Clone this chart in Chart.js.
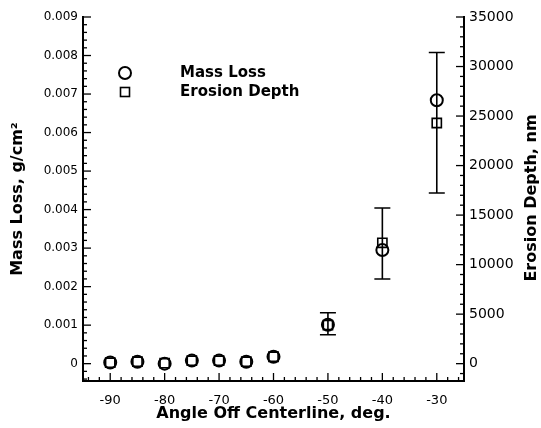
<!DOCTYPE html>
<html>
<head>
<meta charset="utf-8">
<script src="https://cdn.jsdelivr.net/npm/chart.js@4.4.1/dist/chart.umd.min.js"></script>
<style>
  html, body { margin: 0; padding: 0; background: #fff; }
  #box { width: 541px; height: 428px; }
</style>
</head>
<body>
<div id="box"><canvas id="chart" width="541" height="428"></canvas></div>
<script>
//angle off centerline (deg)
const angles = [-90, -85, -80, -75, -70, -65, -60, -50, -40, -30];
//mass loss, g/cm2 (left axis)
const massLoss = [0.00003, 0.00005, 0.0, 0.00008, 0.00008, 0.00005, 0.00018, 0.00101, 0.00295, 0.00684];
//erosion depth, nm (right axis)
const erosion = [100, 200, 50, 300, 300, 200, 700, 3900, 12200, 24300];
//error bars on the mass loss
const errLow = [null, null, null, null, null, null, null, 0.00075, 0.0022, 0.00443];
const errHigh = [null, null, null, null, null, null, null, 0.00132, 0.00404, 0.00808];
const seriesNames = ["Mass Loss", "Erosion Depth"];
//tick labels
const xTicks = [-90, -80, -70, -60, -50, -40, -30];
const massTicks = [0, 0.001, 0.002, 0.003, 0.004, 0.005, 0.006, 0.007, 0.008, 0.009];
const depthTicks = [0, 5000, 10000, 15000, 20000, 25000, 30000, 35000];

const FONT = "'DejaVu Sans', 'Liberation Sans', Arial, sans-serif";
Chart.defaults.color = "#000";
Chart.defaults.font.family = FONT;

const toPoints = (ys) => angles.map((a, i) => ({ x: a, y: ys[i] }));
const setTicks = (list) => (scale) => { scale.ticks = list.map((v) => ({ value: v })); };

//error bars drawn through the scales
const errorBars = {
  id: "errorBars",
  afterDatasetsDraw(chart) {
    const { ctx, scales } = chart;
    ctx.save();
    ctx.strokeStyle = "#000";
    ctx.lineWidth = 1.6;
    angles.forEach((a, i) => {
      if (errLow[i] == null) return;
      const x = scales.x.getPixelForValue(a);
      const y1 = scales.y.getPixelForValue(errLow[i]);
      const y2 = scales.y.getPixelForValue(errHigh[i]);
      ctx.beginPath();
      ctx.moveTo(x, y1); ctx.lineTo(x, y2);
      ctx.moveTo(x - 8, y1); ctx.lineTo(x + 8, y1);
      ctx.moveTo(x - 8, y2); ctx.lineTo(x + 8, y2);
      ctx.stroke();
    });
    ctx.restore();
  },
};

//inward major/minor ticks, legend box and right title
const decorations = {
  id: "decorations",
  afterDraw(chart) {
    const { ctx, scales, chartArea } = chart;
    ctx.save();
    ctx.strokeStyle = "#000";
    ctx.lineWidth = 1.3;
    const tick = (x1, y1, x2, y2) => { ctx.beginPath(); ctx.moveTo(x1, y1); ctx.lineTo(x2, y2); ctx.stroke(); };
    // x axis
    for (let v = -94; v <= -26; v += 2) {
      const px = scales.x.getPixelForValue(v);
      const len = v % 10 === 0 ? 8 : 4;
      tick(px, chartArea.bottom, px, chartArea.bottom - len);
    }
    // left axis
    for (let k = -2; k <= 45; k++) {
      const py = scales.y.getPixelForValue(k * 0.0002);
      const len = k % 5 === 0 ? 8 : 4;
      tick(chartArea.left, py, chartArea.left + len, py);
    }
    // right axis
    for (let v = -1000; v <= 35000; v += 1000) {
      const py = scales.y1.getPixelForValue(v);
      const len = v % 5000 === 0 ? 8 : 4;
      tick(chartArea.right, py, chartArea.right - len, py);
    }

    // legend
    const ds = chart.data.datasets;
    ctx.lineWidth = 2;
    ctx.beginPath(); ctx.arc(125, 73, 6, 0, Math.PI * 2); ctx.stroke();
    ctx.lineWidth = 1.6;
    ctx.strokeRect(120.5, 87.5, 9, 9);
    ctx.fillStyle = "#000";
    ctx.font = "bold 15px " + FONT;
    ctx.textBaseline = "middle";
    ctx.textAlign = "left";
    ctx.fillText(ds[0].label, 180, 73);
    ctx.fillText(ds[1].label, 180, 92);

    // right axis title, reading upwards
    ctx.translate(532, 198);
    ctx.rotate(-Math.PI / 2);
    ctx.textAlign = "center";
    ctx.font = "bold 16px " + FONT;
    ctx.fillText("Erosion Depth, nm", 0, 0);
    ctx.restore();
  },
};

new Chart(document.getElementById("chart"), {
  type: "scatter",
  plugins: [errorBars, decorations],
  data: {
    datasets: [
      {
        label: seriesNames[0],
        data: toPoints(massLoss),
        yAxisID: "y",
        pointStyle: "circle",
        pointRadius: 6,
        borderWidth: 2,
        borderColor: "#000",
        backgroundColor: "rgba(0,0,0,0)",
      },
      {
        label: seriesNames[1],
        data: toPoints(erosion),
        yAxisID: "y1",
        pointStyle: "rect",
        pointRadius: 6.5,
        borderWidth: 1.6,
        borderColor: "#000",
        backgroundColor: "rgba(0,0,0,0)",
      },
    ],
  },
  options: {
    responsive: false,
    animation: false,
    layout: { padding: { top: 17, left: 0, right: 0, bottom: 0 } },
    plugins: { legend: { display: false }, tooltip: { enabled: false } },
    scales: {
      x: {
        type: "linear",
        position: "bottom",
        min: -95,
        max: -25,
        afterBuildTicks: setTicks(xTicks),
        afterFit: (s) => { s.height = 47; },
        grid: { display: false, drawTicks: false },
        border: { display: true, color: "#000", width: 2 },
        ticks: { padding: 12, font: { size: 13 }, callback: (v) => String(v) },
        title: { display: true, text: "Angle Off Centerline, deg.", font: { size: 16, weight: "bold" }, padding: { top: 0, bottom: 5 } },
      },
      y: {
        position: "left",
        min: -0.00045,
        max: 0.009,
        afterBuildTicks: setTicks(massTicks),
        afterFit: (s) => { s.width = 83; },
        grid: { display: false, drawTicks: false },
        border: { display: true, color: "#000", width: 2 },
        ticks: { padding: 5, font: { size: 12 }, callback: (v) => (Math.abs(v) < 1e-9 ? "0" : v.toFixed(3)) },
        title: { display: true, text: "Mass Loss, g/cm\u00b2", font: { size: 16, weight: "bold" }, padding: { top: 8, bottom: 0 } },
      },
      y1: {
        position: "right",
        min: -1750,
        max: 35000,
        afterBuildTicks: setTicks(depthTicks),
        afterFit: (s) => { s.width = 77; },
        grid: { display: false, drawTicks: false },
        border: { display: true, color: "#000", width: 2 },
        ticks: { padding: 5, font: { size: 14 }, callback: (v) => String(Math.round(v)) },
      },
    },
  },
});
</script>
</body>
</html>
